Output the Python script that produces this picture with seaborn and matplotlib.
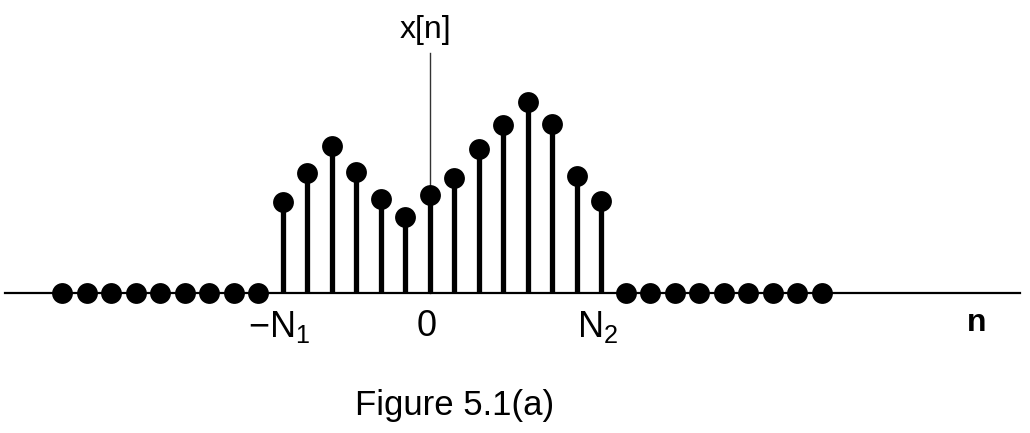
import numpy as np
import pandas as pd
import matplotlib.pyplot as plt
import seaborn as sns

# ----------------------------------------
# Data
# ----------------------------------------
n_support = [-6, -5, -4, -3, -2, -1, 0, 1, 2, 3, 4, 5, 6, 7]
x_support = [91, 120, 147, 121, 94, 76, 98, 115, 144, 168, 191, 169, 117, 92]

n_zero_left = [-15, -14, -13, -12, -11, -10, -9, -8, -7]
n_zero_right = [8, 9, 10, 11, 12, 13, 14, 15, 16]

tick_pos = [-6, 0, 7]
tick_labels = [r"$\mathregular{-N_1}$", "0", r"$\mathregular{N_2}$"]

df = pd.DataFrame({
    "n": n_support + n_zero_left + n_zero_right,
    "x": x_support + [0] * len(n_zero_left) + [0] * len(n_zero_right),
})

# ----------------------------------------
# Figure
# ----------------------------------------
sns.set_theme(style="white")
plt.rcParams["font.family"] = ["Liberation Sans", "DejaVu Sans"]
plt.rcParams["mathtext.default"] = "regular"
plt.rcParams["text.color"] = "black"

fig = plt.figure(figsize=(10.3, 4.33), dpi=100)
ax = fig.add_axes([0, 0, 1, 1])

# stems
ax.vlines(n_support, 0, x_support, color="black", linewidth=3.8, zorder=2)

# dots
sns.scatterplot(
    data=df,
    x="n",
    y="x",
    color="black",
    s=225,
    linewidth=0,
    zorder=3,
    ax=ax,
    legend=False
)

ax.set_xlim(-17.55, 24.49)
ax.set_ylim(-140, 293)

# axes through the origin
for side in ["top", "right"]:
    ax.spines[side].set_visible(False)

ax.spines["bottom"].set_position(("data", 0))
ax.spines["bottom"].set_bounds(-17.35, 24.08)
ax.spines["bottom"].set_linewidth(1.6)
ax.spines["bottom"].set_color("black")
ax.spines["bottom"].set_zorder(1)

ax.spines["left"].set_position(("data", 0))
ax.spines["left"].set_bounds(0, 240)
ax.spines["left"].set_linewidth(1.0)
ax.spines["left"].set_color("#333333")
ax.spines["left"].set_zorder(1)

ax.set_xticks([])
ax.set_yticks([])
ax.set_xlabel("")
ax.set_ylabel("")

for pos, lab in zip(tick_pos, tick_labels):
    ax.text(pos - 0.15, -34, lab, ha="center", va="center", fontsize=26,
            color="black")

ax.text(-0.2, 263, "x[n]", ha="center", va="center", fontsize=23,
        color="black")
ax.text(22.3, -30, "n", ha="center", va="center", fontsize=23,
        fontweight="bold", color="black")

ax.text(1.0, -113, "Figure 5.1(a)", ha="center", va="center", fontsize=25,
        color="black")

plt.savefig("out.png", dpi=100, facecolor="white")
plt.close()

print("Figure Saved")
